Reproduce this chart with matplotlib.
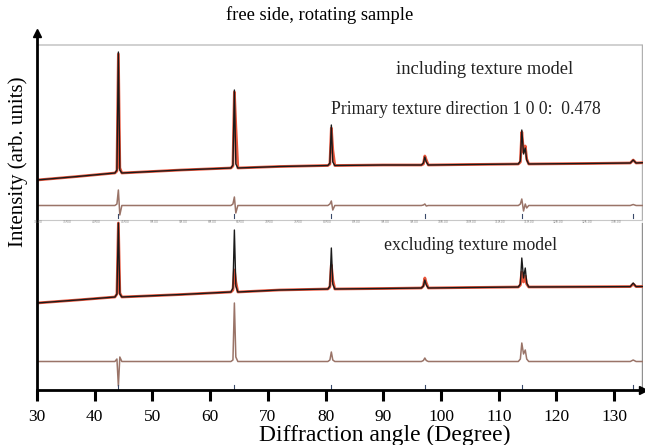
import matplotlib
matplotlib.use("Agg")
import matplotlib.pyplot as plt

plt.rcParams['font.family'] = ['Liberation Serif', 'DejaVu Serif']

# ---------------- data (y in arbitrary intensity units) ----------------
two_theta = [30, 37, 43.5, 43.85, 44.1, 44.35, 44.7, 55, 63.6, 63.95, 64.2, 64.45, 64.8,
             72, 80.4, 80.75, 81.0, 81.25, 81.6, 90, 96.6, 96.95, 97.2, 97.45, 97.8,
             105, 113.4, 113.75, 114.0, 114.3, 114.6, 114.85, 115.2, 125, 132.8, 133.3,
             133.8, 135]

incl_obs = [210, 213.5, 217, 220, 338, 220, 217, 220, 222, 225, 300, 226, 222,
            223.5, 224.5, 227, 265, 228, 224.5, 225, 225, 227, 233, 228, 225,
            225.5, 226, 229, 260, 236, 242, 230, 226, 226.5, 227, 230, 227, 227.3]
incl_calc = [210, 213.5, 217, 219, 336, 222, 217, 220, 222, 224, 298, 263, 222,
             223.5, 224.5, 226, 262, 240, 224.5, 225, 225, 226, 234, 230, 225,
             225.5, 226, 228, 258, 238, 244, 231, 226, 226.5, 227, 230, 227, 227.3]
incl_diff = [184.5, 184.5, 184.5, 186, 200, 175, 184.5, 184.5, 184.5, 186, 193, 177, 184.5,
             184.5, 184.5, 186, 189, 180, 184.5, 184.5, 184.5, 185, 186, 184, 184.5,
             184.5, 184.5, 186, 191, 179, 186, 182, 184.5, 184.5, 184.5, 185.5, 184.5, 184.5]

excl_obs = [87, 90, 93, 96, 167, 96, 93, 95.5, 98, 102, 160, 104, 98,
            100, 101, 104, 142, 106, 101, 101.5, 102, 104, 110, 105, 102,
            102.5, 103, 106, 132, 112, 122, 107, 103, 103.2, 103.4, 107, 103.4, 103.5]
excl_calc = [87, 90, 93, 96, 167, 97, 93, 95.5, 98, 100, 120, 108, 98,
             100, 101, 103, 125, 110, 101, 101.5, 102, 104, 112, 107, 102,
             102.5, 103, 105, 118, 108, 114, 106, 103, 103.2, 103.4, 106, 103.4, 103.5]
excl_diff = [28.5, 28.5, 28.5, 31, 4, 33, 28.5, 28.5, 28.5, 30, 87, 33, 28.5,
             28.5, 28.5, 30, 38, 30, 28.5, 28.5, 28.5, 29.5, 32, 29.5, 28.5,
             28.5, 28.5, 31, 47, 36, 40, 31, 28.5, 28.5, 28.5, 30, 28.5, 28.5]

reflections = [44.1, 64.2, 81.0, 97.2, 114.0, 133.3]
x_ticks = [30, 40, 50, 60, 70, 80, 90, 100, 110, 120, 130]
inner_ticks = [30, 35, 40, 45, 50, 55, 60, 65, 70, 75, 80, 85, 90, 95, 100, 105,
               110, 115, 120, 125, 130]

title = "free side, rotating sample"
xlabel = "Diffraction angle (Degree)"
ylabel = "Intensity (arb. units)"
label_incl = "including texture model"
label_texture = "Primary texture direction 1 0 0:  0.478"
label_excl = "excluding texture model"

# ---------------- figure ----------------
W, H = 645, 445
fig = plt.figure(figsize=(W / 100, H / 100), dpi=100)
ax = fig.add_axes([37 / W, (H - 390) / H, 606 / W, 357 / H])
ax.set_xlim(30, 135)
ax.set_ylim(0, 357)

red = '#e8543a'
blk = '#1a1a1a'
dcol = '#9a7468'

# upper panel frame
ax.plot([30, 134.85], [345.5, 345.5], color='#c8c8c8', lw=1.2)
ax.plot([134.85, 134.85], [345.5, 170.5], color='#b0b0b0', lw=1.0)
ax.plot([30, 134.85], [170.5, 170.5], color='#c8c8c8', lw=0.8)
for t in inner_ticks:
    ax.plot([t, t], [170.5, 169.3], color='#999999', lw=0.5)
    ax.text(t + 0.3, 167.7, f"{t:.2f}", fontsize=2.2, color='#888888',
            ha='center', va='center', family='DejaVu Sans')
ax.plot([134.85, 134.85], [167, 0], color='#909090', lw=1.0)

# curves
ax.plot(two_theta, incl_calc, color=red, lw=2.0)
ax.plot(two_theta, incl_obs, color=blk, lw=1.0)
ax.plot(two_theta, incl_diff, color=dcol, lw=1.1)

ax.plot(two_theta, excl_calc, color=red, lw=2.0)
ax.plot(two_theta, excl_obs, color=blk, lw=1.0)
ax.plot(two_theta, excl_diff, color=dcol, lw=1.1)

for r in reflections:
    ax.plot([r, r], [172, 176], color='#3a4a6a', lw=0.8)
    ax.plot([r, r], [1, 5], color='#3a4a6a', lw=0.8)

# axes styling
for s in ['top', 'right']:
    ax.spines[s].set_visible(False)
ax.spines['left'].set_linewidth(2.0)
ax.spines['bottom'].set_linewidth(2.0)
ax.set_yticks([])
ax.set_xticks(x_ticks)
ax.tick_params(axis='x', direction='out', length=8, width=2.2, pad=6, labelsize=12.5)
ax.plot(0, 1, marker='^', color='k', ms=6, transform=ax.transAxes, clip_on=False)
ax.plot(1, 0, marker='>', color='k', ms=6, transform=ax.transAxes, clip_on=False)

ax.text(107.6, 320, label_incl, fontsize=13.3, ha='center', va='center', color='#222222')
ax.text(80.9, 281, label_texture, fontsize=12.7, ha='left', va='center', color='#222222')
ax.text(105.2, 145, label_excl, fontsize=12.8, ha='center', va='center', color='#222222')

fig.text(320 / W, 1 - 15 / H, title, fontsize=13.3, ha='center', va='center')
fig.text(385 / W, 1 - 435 / H, xlabel, fontsize=17, ha='center', va='center')
fig.text(18 / W, 1 - 162 / H, ylabel, fontsize=15, ha='center', va='center', rotation=90)

fig.savefig("out.png", dpi=100)
